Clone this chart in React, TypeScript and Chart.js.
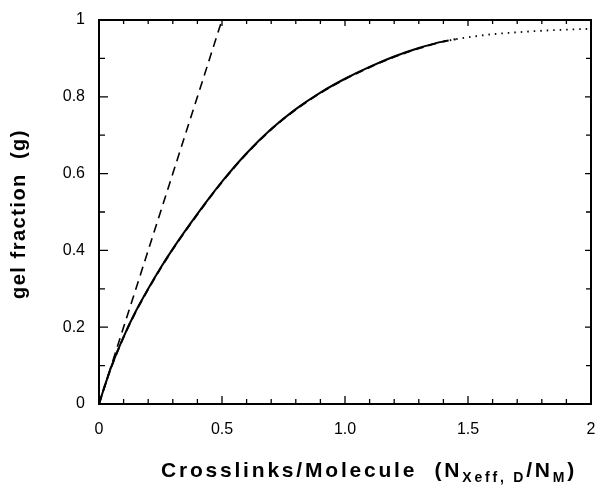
import React, { useEffect, useRef } from "react";
import { Chart, registerables } from "chart.js";

Chart.register(...registerables);

// Solid curve (gel fraction vs crosslinks/molecule)
const solidX = [0, 0.025, 0.05, 0.1, 0.15, 0.2, 0.25, 0.3, 0.4, 0.5, 0.6, 0.7, 0.8, 0.9, 1.0, 1.1, 1.2, 1.3, 1.39];
const solidG = [0, 0.05, 0.097, 0.175, 0.242, 0.3, 0.354, 0.404, 0.495, 0.579, 0.653, 0.716, 0.768, 0.811, 0.847, 0.878, 0.905, 0.927, 0.943];
// Dashed curve (overlapping, extends slightly further)
const dashX = [0, 0.025, 0.05, 0.1, 0.15, 0.2, 0.25, 0.3, 0.4, 0.5, 0.6, 0.7, 0.8, 0.9, 1.0, 1.1, 1.2, 1.3, 1.4, 1.45];
const dashG = [0, 0.05, 0.096, 0.174, 0.241, 0.299, 0.353, 0.403, 0.494, 0.578, 0.652, 0.715, 0.767, 0.81, 0.846, 0.877, 0.904, 0.926, 0.944, 0.95];
// Dotted curve continuation
const dotX = [1.4, 1.45, 1.5, 1.6, 1.7, 1.8, 1.9, 2.0];
const dotG = [0.944, 0.95, 0.955, 0.963, 0.968, 0.972, 0.975, 0.977];
// Dashed straight line (initial slope)
const lineX = [0, 0.5];
const lineG = [0, 1];

const xTicks = [0, 0.5, 1.0, 1.5, 2];
const xTickLabels = ["0", "0.5", "1.0", "1.5", "2"];
const yTicks = [0, 0.2, 0.4, 0.6, 0.8, 1];
const yTickLabels = ["0", "0.2", "0.4", "0.6", "0.8", "1"];
const yTitle = "gel fraction  (g)";

const FONT = "'Liberation Sans', Arial, sans-serif";

const pts = (xs: number[], ys: number[]) => xs.map((x, i) => ({ x, y: ys[i] }));

const framePlugin = {
  id: "frameTicks",
  afterDraw(chart: any) {
    const { ctx, chartArea: a, scales } = chart;
    const xs = scales.x;
    const ys = scales.y;
    ctx.save();
    ctx.strokeStyle = "#000";
    ctx.lineWidth = 2;
    ctx.strokeRect(a.left, a.top, a.right - a.left, a.bottom - a.top);
    ctx.lineWidth = 1.3;
    ctx.beginPath();
    for (let i = 0; i <= 20; i++) {
      const v = i / 10;
      const px = xs.getPixelForValue(v);
      const major = i % 5 === 0;
      const lb = major ? 8 : 5;
      const lt = major ? 6 : 4;
      ctx.moveTo(px, a.bottom);
      ctx.lineTo(px, a.bottom - lb);
      ctx.moveTo(px, a.top);
      ctx.lineTo(px, a.top + lt);
    }
    for (let i = 0; i <= 10; i++) {
      const v = i / 10;
      const py = ys.getPixelForValue(v);
      const major = i % 2 === 0;
      const ll = major ? 9 : 6;
      const lr = major ? 6 : 5;
      ctx.moveTo(a.left, py);
      ctx.lineTo(a.left + ll, py);
      ctx.moveTo(a.right, py);
      ctx.lineTo(a.right - lr, py);
    }
    ctx.stroke();

    // x axis title with subscripts
    const big = `bold 21px ${FONT}`;
    const small = `bold 14px ${FONT}`;
    const parts: [string, string, number][] = [
      ["Crosslinks/Molecule  (N", big, 0],
      ["Xeff, D", small, 5],
      ["/N", big, 0],
      ["M", small, 5],
      [")", big, 0],
    ];
    ctx.fillStyle = "#000";
    ctx.textBaseline = "alphabetic";
    ctx.textAlign = "left";
    (ctx as any).letterSpacing = "2.8px";
    let total = 0;
    for (const [t, f] of parts) {
      ctx.font = f;
      total += ctx.measureText(t).width;
    }
    let x = (a.left + a.right) / 2 + 24 - total / 2;
    const base = a.bottom + 73;
    for (const [t, f, dy] of parts) {
      ctx.font = f;
      ctx.fillText(t, x, base + dy);
      x += ctx.measureText(t).width;
    }

    // y axis title
    (ctx as any).letterSpacing = "1.5px";
    ctx.font = `bold 20px ${FONT}`;
    ctx.textAlign = "center";
    ctx.textBaseline = "middle";
    ctx.translate(19, (a.top + a.bottom) / 2 + 2);
    ctx.rotate(-Math.PI / 2);
    ctx.fillText(yTitle, 0, 0);
    ctx.restore();
  },
};

export default function App() {
  const ref = useRef<HTMLCanvasElement>(null);
  useEffect(() => {
    document.body.style.margin = "0";
    const chart = new Chart(ref.current!, {
      type: "scatter",
      data: {
        datasets: [
          {
            data: pts(dotX, dotG),
            showLine: true,
            borderColor: "#000",
            borderWidth: 1.8,
            borderDash: [1.5, 5],
            pointRadius: 0,
            cubicInterpolationMode: "monotone",
          },
          {
            data: pts(dashX, dashG),
            showLine: true,
            borderColor: "#000",
            borderWidth: 2,
            borderDash: [8, 5],
            pointRadius: 0,
            cubicInterpolationMode: "monotone",
          },
          {
            data: pts(solidX, solidG),
            showLine: true,
            borderColor: "#000",
            borderWidth: 2,
            pointRadius: 0,
            cubicInterpolationMode: "monotone",
          },
          {
            data: pts(lineX, lineG),
            showLine: true,
            borderColor: "#000",
            borderWidth: 1.6,
            borderDash: [9, 6],
            pointRadius: 0,
          },
        ],
      },
      options: {
        animation: false,
        responsive: false,
        events: [],
        layout: { padding: { left: 0, right: 8, top: 20, bottom: 0 } },
        plugins: { legend: { display: false }, tooltip: { enabled: false } },
        scales: {
          x: {
            type: "linear",
            min: 0,
            max: 2,
            afterFit: (s: any) => { s.height = 81; s.paddingLeft = 0; s.paddingRight = 0; },
            afterBuildTicks: (s: any) => { s.ticks = xTicks.map((v) => ({ value: v })); },
            grid: { display: false },
            border: { display: false },
            ticks: {
              padding: 8,
              color: "#000",
              font: { family: FONT, size: 16 },
              callback: (v: any) => xTickLabels[xTicks.indexOf(Number(v))] ?? "",
              maxRotation: 0,
            },
          },
          y: {
            type: "linear",
            min: 0,
            max: 1,
            afterFit: (s: any) => { s.width = 99; s.paddingTop = 0; s.paddingBottom = 0; },
            afterBuildTicks: (s: any) => { s.ticks = yTicks.map((v) => ({ value: v })); },
            grid: { display: false },
            border: { display: false },
            ticks: {
              padding: 6,
              color: "#000",
              font: { family: FONT, size: 16 },
              callback: (v: any) => {
                const i = yTicks.findIndex((t) => Math.abs(t - Number(v)) < 1e-9);
                return i >= 0 ? yTickLabels[i] : "";
              },
            },
          },
        },
      },
      plugins: [framePlugin],
    });
    return () => chart.destroy();
  }, []);
  return (
    <div style={{ width: 599, height: 485 }}>
      <canvas ref={ref} width={599} height={485} style={{ display: "block" }} />
    </div>
  );
}
